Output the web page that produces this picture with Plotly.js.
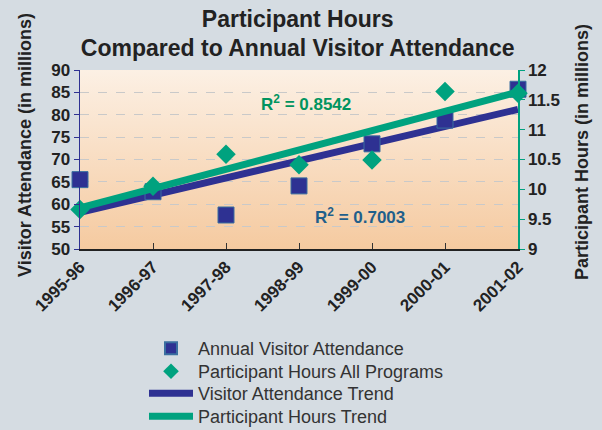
<!DOCTYPE html>
<html>
<head>
<meta charset="utf-8">
<script src="https://cdn.plot.ly/plotly-3.0.1.min.js"></script>
<style>html,body{margin:0;padding:0;background:#d5dce2;}#chart{width:602px;height:430px;}</style>
</head>
<body>
<div id="chart"></div>
<script>
const seasons = ["1995-96","1996-97","1997-98","1998-99","1999-00","2000-01","2001-02"];
const visitorAttendance = [65.5, 62.8, 57.6, 64.1, 73.5, 78.8, 85.7];
const participantHours = [9.66, 10.05, 10.59, 10.41, 10.49, 11.64, 11.61];
const trendSeasons = ["1995-96","2001-02"];
const visitorTrend = [58.2, 81.2];
const participantTrend = [9.69, 11.63];
const leftTicks = [50,55,60,65,70,75,80,85,90];
const rightTicks = [9,9.5,10,10.5,11,11.5,12];

const navy = "#2e3192";
const teal = "#00a27f";
const fontFam = "Liberation Sans, Arial, sans-serif";

// plot area in pixels: left 80, right 518, top 70, bottom 249
const PL = 80, PR = 518, PT = 70, PB = 249;
const px2x = v => (v - PL) / (PR - PL);
const px2y = v => (PB - v) / (PB - PT);

const gradSvg = '<svg xmlns="http://www.w3.org/2000/svg" width="100" height="100" preserveAspectRatio="none"><defs><linearGradient id="g" x1="0" y1="0" x2="0" y2="1"><stop offset="0" stop-color="#fcf0e4"/><stop offset="1" stop-color="#f5caa0"/></linearGradient></defs><rect width="100" height="100" fill="url(#g)"/></svg>';
const gradUri = "data:image/svg+xml;base64," + btoa(gradSvg);

const traces = [
  {x: trendSeasons, y: visitorTrend, type: "scatter", mode: "lines", name: "Visitor Attendance Trend",
   line: {color: navy, width: 7}, yaxis: "y", legend: "legend3", cliponaxis: false},
  {x: seasons, y: visitorAttendance, type: "scatter", mode: "markers", name: "Annual Visitor Attendance",
   marker: {symbol: "square", size: 16, color: navy, line: {color: "#3a6fa0", width: 1}}, yaxis: "y", legend: "legend", cliponaxis: false},
  {x: trendSeasons, y: participantTrend, type: "scatter", mode: "lines", name: "Participant Hours Trend",
   line: {color: teal, width: 7}, yaxis: "y2", legend: "legend4", cliponaxis: false},
  {x: seasons, y: participantHours, type: "scatter", mode: "markers", name: "Participant Hours All Programs",
   marker: {symbol: "diamond", size: 15, color: teal}, yaxis: "y2", legend: "legend2", cliponaxis: false}
];

const tickFont = {size: 17, family: fontFam, color: "#222", weight: "bold"};
const legendBase = (top, sizing) => ({x: 144/602, y: 1 - top/430, xref: "container", yref: "container",
  xanchor: "left", yanchor: "top", bgcolor: "rgba(0,0,0,0)", itemsizing: sizing,
  font: {size: 18, color: "#333", family: fontFam}, itemwidth: 44});

const layout = {
  width: 602, height: 430,
  paper_bgcolor: "#d5dce2", plot_bgcolor: "rgba(0,0,0,0)",
  margin: {l: PL, r: 602 - PR, t: PT, b: 430 - PB, autoexpand: false},
  font: {family: fontFam, color: "#222"},
  title: {text: "<b>Participant Hours<br>Compared to Annual Visitor Attendance</b>",
          font: {size: 23, color: "#222", family: fontFam}, x: 0.497, xanchor: "center", xref: "paper",
          y: 1 - 26.5/430, yanchor: "middle", yref: "container", automargin: false},
  showlegend: true,
  legend: legendBase(330, "constant"),
  legend2: legendBase(353, "constant"),
  legend3: legendBase(375, "trace"),
  legend4: legendBase(398, "trace"),
  xaxis: {type: "category", categoryorder: "array", categoryarray: seasons, range: [0, 6], automargin: false,
          showgrid: false, zeroline: false, showline: true, linecolor: "#222", linewidth: 1.5,
          ticks: "inside", ticklen: 6, tickcolor: "#333", tickangle: -45, tickfont: tickFont},
  yaxis: {range: [50, 90], tickvals: leftTicks, showgrid: true, gridcolor: "#c9c9c9", griddash: "dash", automargin: false,
          zeroline: false, showline: true, linecolor: navy, linewidth: 1.5,
          ticks: "outside", ticklen: 5, tickcolor: navy, tickfont: tickFont},
  yaxis2: {range: [9, 12], tickvals: rightTicks, overlaying: "y", side: "right", showgrid: false, automargin: false,
           zeroline: false, showline: true, linecolor: teal, linewidth: 1.5,
           ticks: "outside", ticklen: 5, tickcolor: teal, tickfont: tickFont},
  images: [{source: gradUri, xref: "paper", yref: "paper", x: 0, y: 1, sizex: 1, sizey: 1,
            xanchor: "left", yanchor: "top", sizing: "stretch", layer: "below"}],
  annotations: [
    {text: "<b>Visitor Attendance (in millions)</b>", xref: "paper", yref: "paper", x: px2x(25), y: px2y(145),
     xanchor: "center", yanchor: "middle", textangle: -90, showarrow: false, font: {size: 18, color: "#222", family: fontFam}},
    {text: "<b>Participant Hours (in millions)</b>", xref: "paper", yref: "paper", x: px2x(582), y: px2y(152),
     xanchor: "center", yanchor: "middle", textangle: -90, showarrow: false, font: {size: 18, color: "#222", family: fontFam}},
    {text: "<b>R<sup>2</sup> = 0.8542</b>", xref: "x", yref: "y2", x: 3.09, y: 11.45, showarrow: false,
     font: {size: 17, color: "#00945f", family: fontFam}},
    {text: "<b>R<sup>2</sup> = 0.7003</b>", xref: "x", yref: "y", x: 3.83, y: 57.3, showarrow: false,
     font: {size: 17, color: "#1f5f8b", family: fontFam}}
  ]
};

Plotly.newPlot("chart", traces, layout, {displayModeBar: false, staticPlot: true});
</script>
</body>
</html>
